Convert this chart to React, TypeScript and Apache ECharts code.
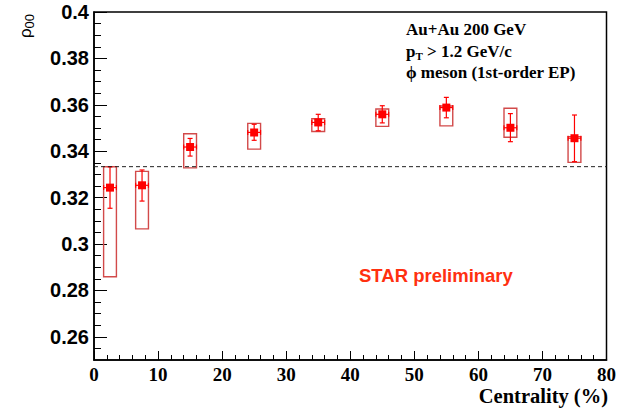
import React, { useEffect, useRef } from "react";
import * as echarts from "echarts";

const centrality = [2.5, 7.5, 15, 25, 35, 45, 55, 65, 75];
const rho00 = [0.3243, 0.3253, 0.3418, 0.3481, 0.3524, 0.3559, 0.3588, 0.3501, 0.3456];
const statLow = [0.3154, 0.3185, 0.3379, 0.3447, 0.3488, 0.3522, 0.3544, 0.3441, 0.3355];
const statHigh = [0.3333, 0.3319, 0.3455, 0.3516, 0.3559, 0.3596, 0.3632, 0.3562, 0.3556];
const sysLow = [0.2859, 0.3065, 0.3328, 0.3409, 0.3485, 0.3507, 0.3509, 0.346, 0.3352];
const sysHigh = [0.3333, 0.3313, 0.3475, 0.352, 0.354, 0.3582, 0.3595, 0.3585, 0.3463];
const binHalfWidth = [1, 1, 1, 1, 1, 1, 1, 1, 1];
const referenceValue = 1 / 3;
const yMajorTicks = [0.26, 0.28, 0.3, 0.32, 0.34, 0.36, 0.38, 0.4];
const yMinorTicks = [
  0.255, 0.26, 0.265, 0.27, 0.275, 0.28, 0.285, 0.29, 0.295, 0.3, 0.305, 0.31, 0.315,
  0.32, 0.325, 0.33, 0.335, 0.34, 0.345, 0.35, 0.355, 0.36, 0.365, 0.37, 0.375, 0.38,
  0.385, 0.39, 0.395,
];
const infoLines = ["Au+Au 200 GeV", "p_T > 1.2 GeV/c", "\u03d5 meson (1st-order EP)"];

export default function App() {
  const ref = useRef<HTMLDivElement>(null);
  useEffect(() => {
    if (!ref.current) return;
    const chart = echarts.init(ref.current, null, { renderer: "svg" });
    const data = centrality.map((c, i) => [c, rho00[i], statLow[i], statHigh[i], sysLow[i], sysHigh[i], binHalfWidth[i]]);
    const red = "#ff0000";
    const serif = "Liberation Serif";
    const sans = "Liberation Sans";
    const option: any = {
      animation: false,
      grid: {
        left: 94,
        right: 11,
        top: 12,
        bottom: 52,
        show: true,
        borderColor: "#000",
        borderWidth: 1.5,
      },
      xAxis: {
        type: "value",
        min: 0,
        max: 80,
        interval: 10,
        axisLine: { lineStyle: { color: "#000", width: 1.5 } },
        axisTick: { inside: true, length: 9, lineStyle: { color: "#000" } },
        minorTick: { show: true, splitNumber: 5, length: 5, lineStyle: { color: "#000" } },
        splitLine: { show: false },
        axisLabel: {
          color: "#000",
          fontFamily: serif,
          fontWeight: "bold",
          fontSize: 19,
          margin: 5,
        },
      },
      yAxis: [
        {
          type: "value",
          min: 0.25,
          max: 0.4,
          axisLine: { show: true, lineStyle: { color: "#000", width: 1.5 } },
          axisTick: { show: true, inside: true, length: 13, customValues: yMajorTicks, lineStyle: { color: "#000" } },
          axisLabel: {
            customValues: yMajorTicks,
            formatter: (v: number) => String(parseFloat(Number(v).toFixed(2))),
            color: "#000",
            fontFamily: sans,
            fontWeight: "bold",
            fontSize: 20,
            margin: 5,
          },
          splitLine: { show: false },
        },
        {
          type: "value",
          min: 0.25,
          max: 0.4,
          position: "left",
          offset: 0,
          axisLine: { show: false },
          axisTick: { show: true, inside: true, length: 7, customValues: yMinorTicks, lineStyle: { color: "#000" } },
          axisLabel: { show: false },
          splitLine: { show: false },
        },
      ],
      graphic: [
        {
          type: "text",
          x: 25,
          y: 26,
          rotation: Math.PI / 2,
          style: {
            text: "{r|\u03c1}{s|00}",
            align: "center",
            verticalAlign: "middle",
            rich: {
              r: { fontFamily: sans, fontSize: 17, fill: "#000" },
              s: { fontFamily: sans, fontSize: 13, fill: "#000", padding: [9, 0, 0, 0] },
            },
          },
        },
        {
          type: "text",
          right: 11,
          top: 385,
          style: {
            text: "Centrality (%)",
            fontFamily: serif,
            fontWeight: "bold",
            fontSize: 20.5,
            fill: "#000",
          },
        },
        {
          type: "text",
          left: 406,
          top: 21,
          style: { text: infoLines[0], fontFamily: serif, fontWeight: "bold", fontSize: 17, fill: "#000" },
        },
        {
          type: "text",
          left: 406,
          top: 43,
          style: {
            text: "{a|p}{b|T}{a| > 1.2 GeV/c}",
            rich: {
              a: { fontFamily: serif, fontWeight: "bold", fontSize: 17, fill: "#000" },
              b: { fontFamily: serif, fontWeight: "bold", fontSize: 11, fill: "#000", padding: [8, 0, 0, 0] },
            },
          },
        },
        {
          type: "text",
          left: 406,
          top: 64,
          style: { text: infoLines[2], fontFamily: serif, fontWeight: "bold", fontSize: 17, fill: "#000" },
        },
        {
          type: "text",
          left: 359,
          top: 266,
          style: { text: "STAR preliminary", fontFamily: sans, fontWeight: "bold", fontSize: 18.5, fill: "#ff3010" },
        },
      ],
      series: [
        {
          type: "line",
          data: [
            [0, referenceValue],
            [80, referenceValue],
          ],
          symbol: "none",
          lineStyle: { color: "#222", width: 1, type: [4, 3] },
          silent: true,
        },
        {
          type: "custom",
          data,
          encode: { x: 0, y: 1 },
          renderItem: (params: any, api: any) => {
            const x = api.value(0);
            const y = api.value(1);
            const sLo = api.value(2);
            const sHi = api.value(3);
            const yLo = api.value(4);
            const yHi = api.value(5);
            const hw = api.value(6);
            const boxTL = api.coord([x - hw, yHi]);
            const boxBR = api.coord([x + hw, yLo]);
            const c = api.coord([x, y]);
            const top = api.coord([x, sHi]);
            const bot = api.coord([x, sLo]);
            const left = api.coord([x - hw, y]);
            const right = api.coord([x + hw, y]);
            const cap = 2.5;
            const ls = { stroke: red, lineWidth: 1.2 };
            return {
              type: "group",
              children: [
                {
                  type: "rect",
                  shape: { x: boxTL[0], y: boxTL[1], width: boxBR[0] - boxTL[0], height: boxBR[1] - boxTL[1] },
                  style: { fill: "none", stroke: "#d24a4a", lineWidth: 1.4 },
                },
                { type: "line", shape: { x1: top[0], y1: top[1], x2: bot[0], y2: bot[1] }, style: ls },
                { type: "line", shape: { x1: top[0] - cap, y1: top[1], x2: top[0] + cap, y2: top[1] }, style: ls },
                { type: "line", shape: { x1: bot[0] - cap, y1: bot[1], x2: bot[0] + cap, y2: bot[1] }, style: ls },
                { type: "line", shape: { x1: left[0], y1: left[1], x2: right[0], y2: right[1] }, style: ls },
                { type: "line", shape: { x1: left[0], y1: left[1] - cap, x2: left[0], y2: left[1] + cap }, style: ls },
                { type: "line", shape: { x1: right[0], y1: right[1] - cap, x2: right[0], y2: right[1] + cap }, style: ls },
                { type: "rect", shape: { x: c[0] - 4, y: c[1] - 4, width: 8, height: 8 }, style: { fill: red } },
              ],
            };
          },
        },
      ],
    };
    chart.setOption(option);
    return () => chart.dispose();
  }, []);
  return <div ref={ref} style={{ width: 619, height: 412, position: "absolute", left: 0, top: 0 }} />;
}
